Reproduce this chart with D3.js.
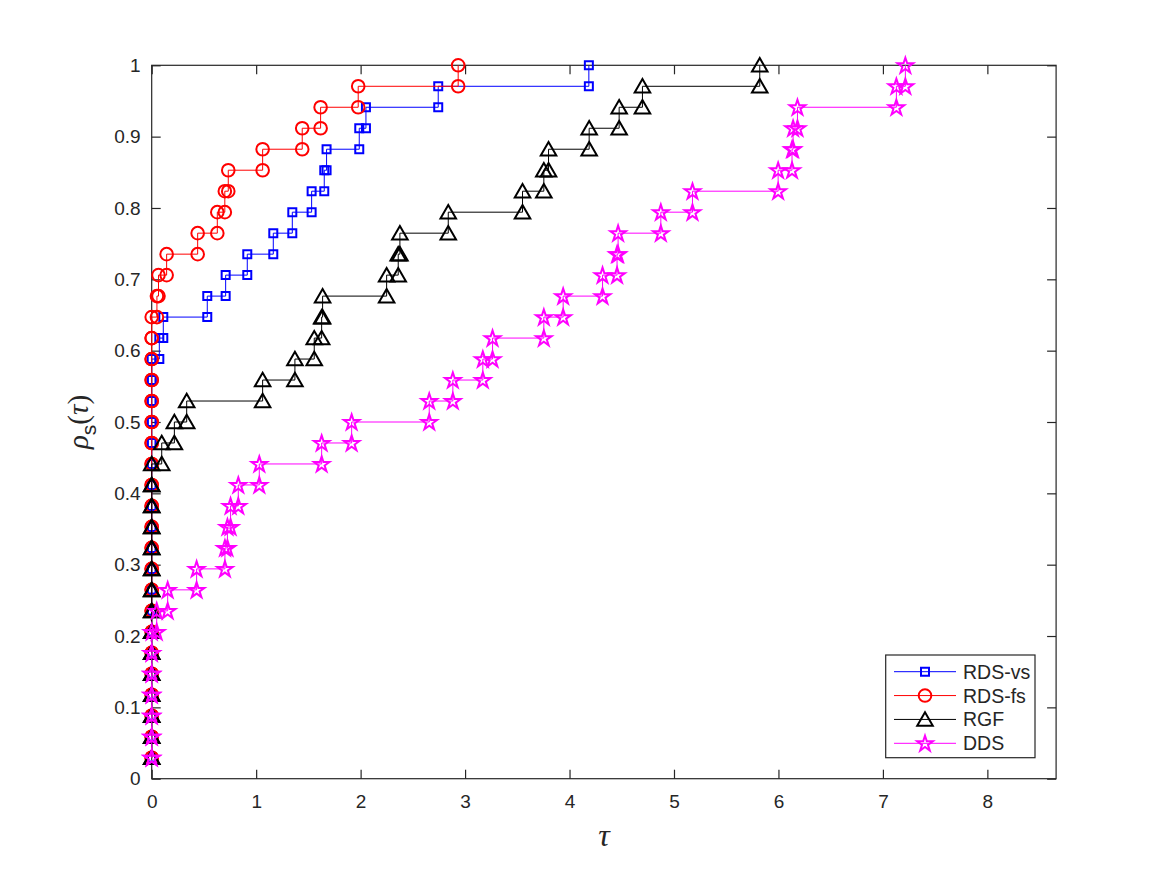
<!DOCTYPE html>
<html lang="en">
<head>
<meta charset="UTF-8">
<title>Performance profile</title>
<script src="https://cdn.jsdelivr.net/npm/d3@7/dist/d3.min.js"></script>
<style>
  body { margin: 0; background: #fff; }
  text { font-family: "Liberation Sans", Arial, sans-serif; fill: #262626; }
</style>
</head>
<body>
<script>
// sorted performance ratios (log2 scale), 34 problems per solver
const nProblems = 34;
const rdsVs = [0, 0, 0, 0, 0, 0, 0, 0, 0, 0, 0, 0, 0, 0, 0, 0, 0, 0, 0, 0,
    0.073, 0.111, 0.532, 0.708, 0.915, 1.164, 1.346, 1.531, 1.652, 1.674, 1.987, 2.051, 2.743, 4.185];
const rdsFs = [0, 0, 0, 0, 0, 0, 0, 0, 0, 0, 0, 0, 0, 0, 0, 0, 0, 0, 0, 0, 0, 0,
    0.05, 0.065, 0.143, 0.44, 0.628, 0.70, 0.733, 1.062, 1.441, 1.617, 1.977, 2.934];
const rgf = [0, 0, 0, 0, 0, 0, 0, 0, 0, 0, 0, 0, 0, 0, 0,
    0.096, 0.217, 0.335, 1.062, 1.371, 1.556, 1.627, 1.636, 2.249, 2.36, 2.376, 2.839,
    3.55, 3.754, 3.799, 4.188, 4.475, 4.698, 5.821];
const dds = [0, 0, 0, 0, 0, 0, 0,
    0.048, 0.153, 0.43, 0.701, 0.725, 0.755, 0.829, 1.030, 1.627, 1.914, 2.657, 2.883,
    3.17, 3.263, 3.754, 3.939, 4.316, 4.455, 4.465, 4.874, 5.177, 5.997, 6.13, 6.14,
    6.182, 7.129, 7.215];

const solverNames = ["RDS-vs", "RDS-fs", "RGF", "DDS"];
const xTicks = [0, 1, 2, 3, 4, 5, 6, 7, 8];
const yTicks = [0, 0.1, 0.2, 0.3, 0.4, 0.5, 0.6, 0.7, 0.8, 0.9, 1];

const W = 1167, H = 875;
const margin = {left: 151.7, right: 1056.1, top: 65.3, bottom: 778.7};
const ink = "#262626";

const series = [
    {name: solverNames[0], t: rdsVs, color: "#0000ff", sym: d3.symbolSquare, size: 64, dy: 0},
    {name: solverNames[1], t: rdsFs, color: "#ff0000", sym: d3.symbolCircle, size: 125, dy: 0},
    {name: solverNames[2], t: rgf, color: "#000000", sym: d3.symbolTriangle, size: 105, dy: 1.8},
    {name: solverNames[3], t: dds, color: "#ff00ff", sym: d3.symbolStar, size: 75, dy: 0.6}
];

const svg = d3.select("body").append("svg").attr("width", W).attr("height", H);

const tMax = d3.max(series, s => d3.max(s.t));
const x = d3.scaleLinear().domain([0, 1.2 * tMax]).range([margin.left, margin.right]);
const y = d3.scaleLinear().domain([0, 1]).range([margin.bottom, margin.top]);

// stairs vertices: (t1,1/n),(t2,1/n),(t2,2/n),...
function stairs(t) {
    const pts = [];
    t.forEach((v, k) => {
        if (k > 0) pts.push([v, k / nProblems]);
        pts.push([v, (k + 1) / nProblems]);
    });
    return pts;
}

// axes box
svg.append("rect")
    .attr("x", margin.left).attr("y", margin.top)
    .attr("width", margin.right - margin.left).attr("height", margin.bottom - margin.top)
    .attr("fill", "#fff").attr("stroke", ink).attr("stroke-width", 1.2);

const tick = 9;
const styleAxis = g => {
    g.select(".domain").remove();
    g.selectAll(".tick line").attr("stroke", ink).attr("stroke-width", 1.2);
    g.selectAll(".tick text").attr("fill", ink)
        .style("font-family", '"Liberation Sans", Arial, sans-serif').style("font-size", "19px");
};

svg.append("g").attr("transform", `translate(0,${margin.bottom})`)
    .call(d3.axisBottom(x).tickValues(xTicks).tickSizeInner(-tick).tickSizeOuter(0).tickPadding(16))
    .call(styleAxis);
svg.append("g").attr("transform", `translate(0,${margin.top})`)
    .call(d3.axisTop(x).tickValues(xTicks).tickSizeInner(-tick).tickSizeOuter(0).tickFormat(""))
    .call(styleAxis);
svg.append("g").attr("transform", `translate(${margin.left},0)`)
    .call(d3.axisLeft(y).tickValues(yTicks).tickSizeInner(-tick).tickSizeOuter(0).tickPadding(11)
        .tickFormat(d3.format("~g")))
    .call(styleAxis);
svg.append("g").attr("transform", `translate(${margin.right},0)`)
    .call(d3.axisRight(y).tickValues(yTicks).tickSizeInner(-tick).tickSizeOuter(0).tickFormat(""))
    .call(styleAxis);

// series
const line = d3.line().x(d => x(d[0])).y(d => y(d[1]));
series.forEach(s => {
    const pts = stairs(s.t);
    const g = svg.append("g");
    g.append("path").attr("d", line(pts)).attr("fill", "none")
        .attr("stroke", s.color).attr("stroke-width", 1);
    g.selectAll("path.m").data(pts).join("path").attr("class", "m")
        .attr("transform", d => `translate(${x(d[0])},${y(d[1]) + s.dy})`)
        .attr("d", d3.symbol(s.sym, s.size))
        .attr("fill", "none").attr("stroke", s.color).attr("stroke-width", 2);
});

// axis labels
svg.append("text").attr("x", (margin.left + margin.right) / 2).attr("y", 846)
    .attr("text-anchor", "middle")
    .style("font-family", '"Liberation Serif", "Times New Roman", serif')
    .style("font-style", "italic").style("font-size", "32px").text("τ");

const yl = svg.append("text")
    .attr("transform", `translate(88,${(margin.top + margin.bottom) / 2}) rotate(-90)`)
    .attr("text-anchor", "middle")
    .style("font-family", '"Liberation Serif", "Times New Roman", serif')
    .style("font-size", "29px");
yl.append("tspan").style("font-style", "italic").text("ρ");
yl.append("tspan").attr("dy", 8).style("font-family", '"Liberation Sans", Arial, sans-serif')
    .style("font-size", "21px").text("s");
yl.append("tspan").attr("dy", -8).text("(");
yl.append("tspan").style("font-style", "italic").text("τ");
yl.append("tspan").text(")");

// legend
const lg = svg.append("g");
const lgBox = {x: 885.7, y: 655, w: 149.3, h: 102.7};
lg.append("rect").attr("x", lgBox.x).attr("y", lgBox.y).attr("width", lgBox.w).attr("height", lgBox.h)
    .attr("fill", "#fff").attr("stroke", ink).attr("stroke-width", 1.2);
const rowY = d3.scalePoint().domain(solverNames).range([671.7, 743.3]);
series.forEach(s => {
    const yy = rowY(s.name);
    lg.append("line").attr("x1", 894).attr("x2", 956).attr("y1", yy).attr("y2", yy)
        .attr("stroke", s.color).attr("stroke-width", 1);
    lg.append("path").attr("transform", `translate(925,${yy + s.dy})`)
        .attr("d", d3.symbol(s.sym, s.size)).attr("fill", "none")
        .attr("stroke", s.color).attr("stroke-width", 2);
    lg.append("text").attr("x", 963).attr("y", yy).attr("dy", "0.36em")
        .style("font-size", "19.5px").attr("fill", "#000").text(s.name);
});
</script>
</body>
</html>
